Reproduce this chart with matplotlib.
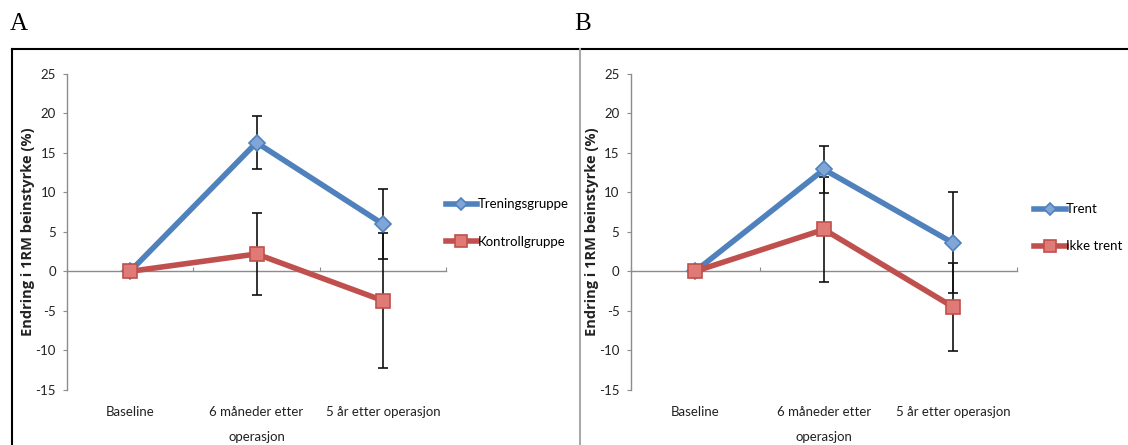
import matplotlib.pyplot as plt
from matplotlib.lines import Line2D

plt.rcParams['font.family'] = ['Lato', 'DejaVu Sans']

categories = ['Baseline', '6 måneder etter\noperasjon', '5 år etter operasjon']

# panel A
a_labels = ['Treningsgruppe', 'Kontrollgruppe']
a_blue = [0, 16.3, 6.0]
a_blue_err = [0, 3.4, 4.4]
a_red = [0, 2.2, -3.7]
a_red_err = [0, 5.2, 8.5]

# panel B
b_labels = ['Trent', 'Ikke trent']
b_blue = [0, 12.9, 3.6]
b_blue_err = [0, 3.0, 6.4]
b_red = [0, 5.3, -4.5]
b_red_err = [0, 6.7, 5.6]

yticks = [-15, -10, -5, 0, 5, 10, 15, 20, 25]
ylim = (-15, 25)

BLUE = '#4F81BD'
RED = '#C0504D'
GREY = '#8c8c8c'

fig = plt.figure(figsize=(11.28, 4.45), dpi=100)


def panel(rect, blue, blue_err, red, red_err, labels, leg_anchor):
    ax = fig.add_axes(rect)
    x = range(len(categories))
    ax.errorbar(x, blue, yerr=blue_err, fmt='none', ecolor='#111111',
                elinewidth=1.2, capsize=3.3, capthick=1.2, zorder=4)
    ax.errorbar(x, red, yerr=red_err, fmt='none', ecolor='#111111',
                elinewidth=1.2, capsize=3.3, capthick=1.2, zorder=4)
    ax.plot(x, blue, color=BLUE, lw=4, marker='D', ms=8,
            mfc='#7fa6d6', mec=BLUE, mew=1.2, label=labels[0], zorder=5)
    ax.plot(x, red, color=RED, lw=4, marker='s', ms=10,
            mfc='#e07a76', mec=RED, mew=1.2, label=labels[1], zorder=5)

    ax.set_xlim(-0.5, len(categories) - 0.5)
    ax.set_ylim(*ylim)
    ax.set_yticks(yticks)
    ax.set_yticklabels([str(v) for v in yticks])
    ax.set_xticks(list(x))
    ax.set_xticklabels(categories, fontsize=9.5, color='#222222',
                       linespacing=2.3)
    ax.tick_params(axis='x', length=0, pad=12)
    ax.tick_params(axis='y', length=3, color=GREY, labelsize=9.5,
                   labelcolor='#222222', pad=5)

    for s in ['top', 'right', 'bottom']:
        ax.spines[s].set_visible(False)
    ax.spines['left'].set_color(GREY)
    ax.spines['left'].set_linewidth(1.0)

    zero = (0 - ylim[0]) / (ylim[1] - ylim[0])
    sec = ax.secondary_xaxis(zero)
    sec.set_xticks([i - 0.5 for i in range(len(categories) + 1)])
    sec.set_xticklabels([])
    sec.tick_params(axis='x', direction='in', length=3, color=GREY)
    sec.spines['bottom'].set_color(GREY)
    sec.spines['bottom'].set_linewidth(1.0)

    ax.set_ylabel('Endring i 1RM beinstyrke (%)', fontsize=10.5,
                  fontweight='bold', color='#222222', labelpad=0,
                  family='Open Sans')

    ax.legend(loc='center left', bbox_to_anchor=leg_anchor, frameon=False,
              fontsize=9.5, handlelength=2.4, handletextpad=0.0,
              labelspacing=1.9, borderaxespad=0, markerscale=0.8)
    return ax


panel([0.0594, 0.124, 0.336, 0.71], a_blue, a_blue_err, a_red, a_red_err,
      a_labels, (0.985, 0.528))
panel([0.559, 0.124, 0.343, 0.71], b_blue, b_blue_err, b_red, b_red_err,
      b_labels, (1.03, 0.513))

# panel frames
fig.add_artist(Line2D([12 / 1128, 1], [1 - 49 / 445] * 2, color='black', lw=1.5))
fig.add_artist(Line2D([12 / 1128] * 2, [0, 1 - 49 / 445], color='black', lw=1.5))
fig.add_artist(Line2D([580 / 1128] * 2, [0, 1 - 49 / 445], color='#aaaaaa', lw=1.5))

fig.text(10 / 1128, 1 - 30 / 445, 'A', fontsize=18, family='Liberation Serif')
fig.text(574 / 1128, 1 - 30 / 445, 'B', fontsize=18, family='Liberation Serif')

fig.savefig('out.png', dpi=100)
